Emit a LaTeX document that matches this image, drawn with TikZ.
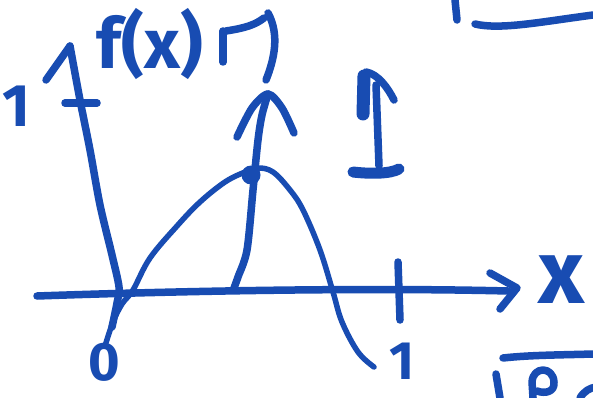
\documentclass[tikz,border=0pt]{standalone}
\usepackage{fontspec}
\setmainfont{Fira Sans}
\definecolor{ink}{RGB}{24,76,178}
\begin{document}
\begin{tikzpicture}[x=1pt,y=-1pt,
  pen/.style={draw=ink,line width=7.5pt,line cap=round,line join=round},
  thinpen/.style={draw=ink,line width=5.5pt,line cap=round,line join=round},
  lbl/.style={text=ink,inner sep=0pt,font=\bfseries}]
\useasboundingbox[fill=white] (0,0) rectangle (593,398);
% x axis
\coordinate (xs) at (37,296);
\coordinate (xe) at (508,291);
\coordinate (xh) at (517,288);
\draw[pen] (xs) .. controls (150,292) and (350,287) .. (xe);
\draw[pen] (490,273) -- (xh) -- (500,309);
% tick at 1
\coordinate (t1a) at (398,262);
\coordinate (t1b) at (400,320);
\draw[pen] (t1a) -- (t1b);
% y axis
\coordinate (ytip) at (70,46);
\draw[pen] plot[smooth] coordinates {(112,327) (117,303) (119,287) (112,255) (100,205) (90,150) (80,100) (ytip)};
\draw[pen] (46,80) -- (ytip);
\draw[pen] (65,103) -- (97,103);
% curve
\draw[thinpen] plot[smooth,tension=0.6] coordinates {(105,346) (113,322) (122,304) (133,290) (150,258) (177,226) (200,202) (225,182) (245,172) (258,168) (273,172) (290,190) (303,210) (320,250) (333,292) (342,322) (358,352) (374,367)};
% peak dot
\node[circle,fill=ink,minimum size=19pt,inner sep=0pt] (peak) at (251,175) {};
% vertical arrow
\coordinate (atip) at (268,94);
\draw[pen] plot[smooth] coordinates {(234,288) (238,277) (247,250) (253,190) (258,140) (262,115) (atip)};
\draw[pen] plot[smooth] coordinates {(237,137) (252,108) (atip) (282,108) (294,133)};
% labels
\node[lbl,font=\bfseries\fontsize{70}{70}\selectfont] (fx) at (150,44) {f(x)};
\node[lbl,font=\bfseries\fontsize{90}{90}\selectfont] (xl) at (562,280) {x};
\node[lbl,font=\bfseries\fontsize{54}{54}\selectfont] (zero) at (104,362) {0};
\node[lbl,font=\bfseries\fontsize{54}{54}\selectfont] (one) at (402,361) {1};
\node[lbl,font=\bfseries\fontsize{60}{60}\selectfont] (oneY) at (16,106) {1};
% marks after f(x)
\draw[pen] (223,62) -- (223,31);
\draw[pen] (226,31) .. controls (245,28) and (255,25) .. (264,18);
\draw[pen] (268,13) .. controls (280,35) and (274,60) .. (266,80);
% right mark
\draw[ink,line width=13pt,line cap=round] (364,76) -- (363,114);
\draw[pen] (366,72) .. controls (378,74) and (388,88) .. (394,100);
\draw[pen] (376,85) -- (379,166);
\draw[ink,line width=11pt,line cap=round] (353,172) .. controls (370,174) and (390,174) .. (399,169);
% top right
\draw[pen] (455,0) -- (457,20);
\draw[pen] (475,24) .. controls (500,30) and (540,22) .. (593,15);
% bottom right
\draw[pen] (503,358) .. controls (530,355) and (560,355) .. (593,354);
\draw[pen] (496,374) -- (500,398);
\draw[pen] (533,398) -- (532,382) .. controls (533,366) and (553,366) .. (554,382) .. controls (555,392) and (545,394) .. (537,391);
\draw[pen] (580,398) .. controls (584,391) and (590,388) .. (596,387);
\end{tikzpicture}
\end{document}
